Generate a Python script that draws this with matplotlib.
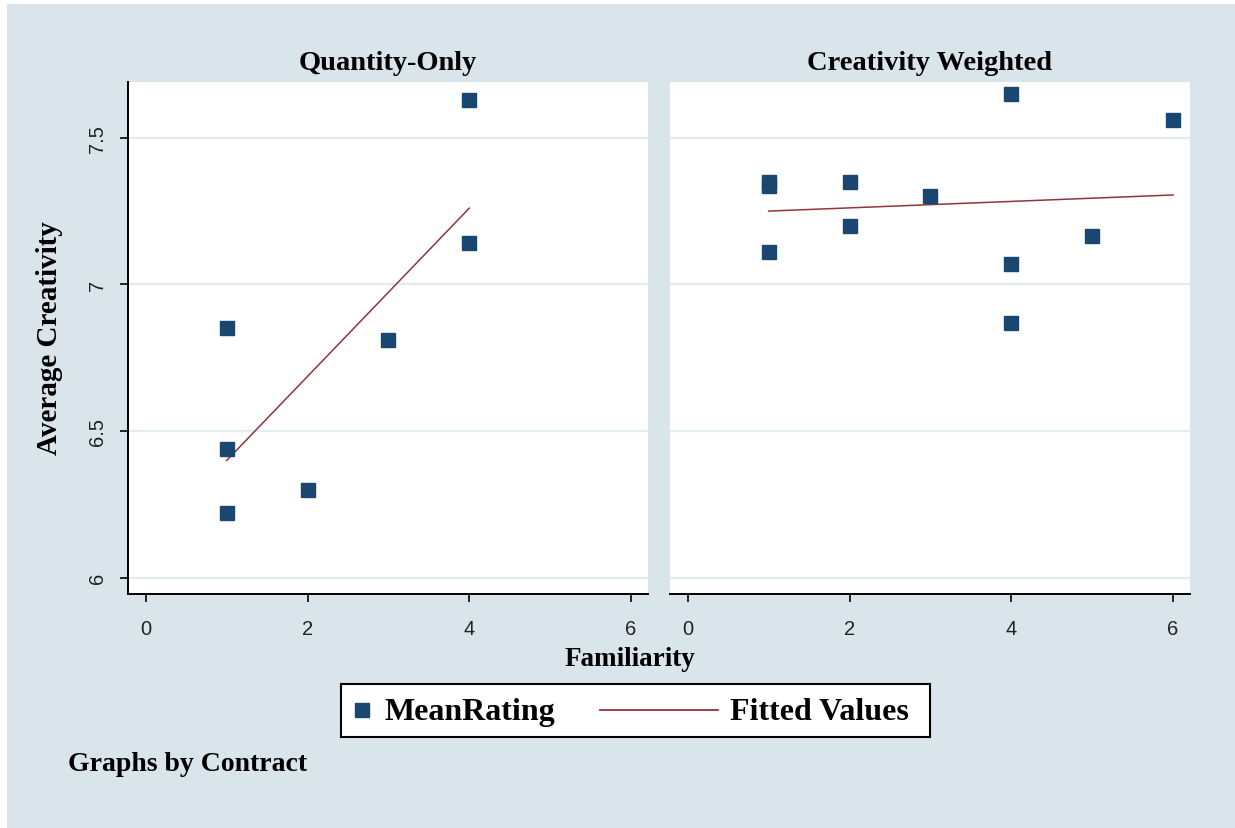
import matplotlib
matplotlib.use("Agg")
import matplotlib.pyplot as plt
from matplotlib.patches import Rectangle

# data
familiarity_q = [1, 1, 1, 2, 3, 4, 4]
rating_q = [6.85, 6.44, 6.22, 6.30, 6.81, 7.63, 7.14]
fit_x_q = [1, 4]
fit_y_q = [6.40, 7.26]

familiarity_c = [1, 1, 1, 2, 2, 3, 4, 4, 4, 5, 6]
rating_c = [7.35, 7.335, 7.11, 7.35, 7.20, 7.30, 7.65, 7.07, 6.87, 7.165, 7.56]
fit_x_c = [1, 6]
fit_y_c = [7.25, 7.305]

panel_titles = ["Quantity-Only", "Creativity Weighted"]
xticks = [0, 2, 4, 6]
yticks = [6, 6.5, 7, 7.5]
ytick_labels = ["6", "6.5", "7", "7.5"]

BG = "#d9e5eb"
NAVY = "#1a476f"
MAROON = "#90353b"
GRID = "#e3ecf0"
SERIF = "Liberation Serif"
SANS = "Liberation Sans"

W, H = 1235, 829
fig = plt.figure(figsize=(W / 100, H / 100), dpi=100, facecolor=BG)

# thin white strips at top and left edge, as in the exported image
fig.patches.append(Rectangle((0, 1 - 5 / H), 1, 5 / H, transform=fig.transFigure,
                             facecolor="white", edgecolor="none"))
fig.patches.append(Rectangle((0, 0), 7 / W, 1, transform=fig.transFigure,
                             facecolor="white", edgecolor="none"))


def px_axes(x0, y0, x1, y1):
    return fig.add_axes([x0 / W, 1 - y1 / H, (x1 - x0) / W, (y1 - y0) / H])


def fy(y):
    return 1 - y / H


ax1 = px_axes(128, 83, 648, 595)
ax2 = px_axes(670, 83, 1190, 595)

panels = [(ax1, familiarity_q, rating_q, fit_x_q, fit_y_q),
          (ax2, familiarity_c, rating_c, fit_x_c, fit_y_c)]

for i, (ax, x, y, fx, fyv) in enumerate(panels):
    ax.set_facecolor("white")
    for v in yticks:
        ax.axhline(v, color=GRID, lw=1.6, zorder=0)
    ax.plot(x, y, ls="none", marker="s", ms=10, color=NAVY, zorder=3)
    ax.plot(fx, fyv, color=MAROON, lw=1.1, zorder=2)
    ax.set_xlim(-0.22, 6.21)
    ax.set_ylim(5.945, 7.69)
    ax.set_xticks(xticks)
    ax.set_xticklabels([str(t) for t in xticks], fontsize=14.5, family=SANS)
    for s in ["top", "right"]:
        ax.spines[s].set_visible(False)
    ax.spines["bottom"].set_linewidth(1.4)
    ax.tick_params(axis="x", direction="out", length=6, width=1.4, pad=12,
                   colors="#222222")
    if i == 0:
        ax.spines["left"].set_linewidth(1.4)
        ax.set_yticks(yticks)
        ax.set_yticklabels(ytick_labels, fontsize=14.5, family=SANS,
                           rotation=90, va="center")
        ax.tick_params(axis="y", direction="out", length=6, width=1.4, pad=9,
                       colors="#222222")
    else:
        ax.spines["left"].set_visible(False)
        ax.set_yticks([])
    # panel title
    bb = ax.get_position()
    fig.text((bb.x0 + bb.x1) / 2, fy(64), panel_titles[i], ha="center",
             va="center", family=SERIF, fontweight="bold", fontsize=20.5)

fig.text(50 / W, fy(338), "Average Creativity", rotation=90, ha="center",
         va="center", family=SERIF, fontweight="bold", fontsize=21)
fig.text(630 / W, fy(660), "Familiarity", ha="center", va="center",
         family=SERIF, fontweight="bold", fontsize=19.5)

# legend box
lg = px_axes(341, 685, 930, 738)
lg.set_xlim(0, 589)
lg.set_ylim(53, 0)
lg.set_xticks([])
lg.set_yticks([])
lg.set_facecolor("white")
for s in lg.spines.values():
    s.set_linewidth(1.5)
lg.plot([21], [26], ls="none", marker="s", ms=10, color=NAVY)
lg.text(44, 28, "MeanRating", va="center", ha="left", family=SERIF,
        fontweight="bold", fontsize=23)
lg.plot([259, 377], [26, 26], color=MAROON, lw=1.3)
lg.text(389, 28, "Fitted Values", va="center", ha="left", family=SERIF,
        fontweight="bold", fontsize=23)

fig.text(68 / W, fy(765), "Graphs by Contract", ha="left", va="center",
         family=SERIF, fontweight="bold", fontsize=20)

fig.savefig("out.png", dpi=100, facecolor=BG)
